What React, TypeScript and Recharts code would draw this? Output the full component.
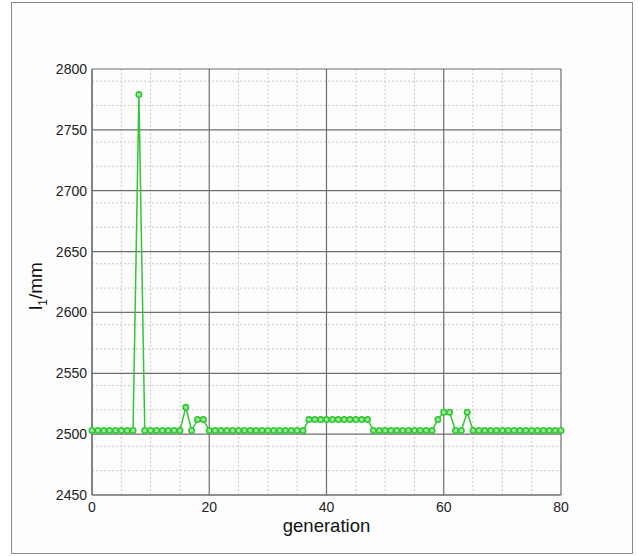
import { LineChart, Line, XAxis, YAxis, CartesianGrid, Label } from 'recharts'

// generation index 0..80
const generations = Array.from({ length: 81 }, (_, i) => i)

// l1 length per generation (mm)
const l1Values = [
  2503, 2503, 2503, 2503, 2503, 2503, 2503, 2503, 2779, 2503,
  2503, 2503, 2503, 2503, 2503, 2503, 2522, 2503, 2512, 2512,
  2503, 2503, 2503, 2503, 2503, 2503, 2503, 2503, 2503, 2503,
  2503, 2503, 2503, 2503, 2503, 2503, 2503, 2512, 2512, 2512,
  2512, 2512, 2512, 2512, 2512, 2512, 2512, 2512, 2503, 2503,
  2503, 2503, 2503, 2503, 2503, 2503, 2503, 2503, 2503, 2512,
  2518, 2518, 2503, 2503, 2518, 2503, 2503, 2503, 2503, 2503,
  2503, 2503, 2503, 2503, 2503, 2503, 2503, 2503, 2503, 2503,
  2503,
]

const xTicks = [0, 20, 40, 60, 80]
const yTicks = [2450, 2500, 2550, 2600, 2650, 2700, 2750, 2800]
const xMinor = [5, 10, 15, 25, 30, 35, 45, 50, 55, 65, 70, 75]
const yMinor = [
  2460, 2470, 2480, 2490, 2510, 2520, 2530, 2540, 2560, 2570, 2580, 2590,
  2610, 2620, 2630, 2640, 2660, 2670, 2680, 2690, 2710, 2720, 2730, 2740,
  2760, 2770, 2780, 2790,
]

const data = generations.map((g, i) => ({ gen: g, l1: l1Values[i] }))

const FONT = '"Liberation Sans", Arial, sans-serif'
const GREEN = '#33c633'

const YLabel = ({ viewBox }: any) => {
  const cx = 42
  const cy = viewBox.y + viewBox.height / 2 + 4
  return (
    <text
      x={cx}
      y={cy}
      transform={`rotate(-90, ${cx}, ${cy})`}
      textAnchor="middle"
      fontFamily={FONT}
      fontSize={19}
      fill="#111"
    >
      l<tspan fontSize={12} dy={5}>1</tspan>
      <tspan dy={-5}>/mm</tspan>
    </text>
  )
}

export default function App() {
  return (
    <div
      style={{
        position: 'absolute',
        left: 0,
        top: 0,
        width: 638,
        height: 556,
        background: '#fff',
      }}
    >
      <div
        style={{
          position: 'absolute',
          left: 11,
          top: 2,
          width: 620,
          height: 550,
          border: '1px solid #8a8a8a',
          background: '#fdfdfd',
        }}
      />
      <div style={{ position: 'absolute', left: 0, top: 0 }}>
        <LineChart
          width={638}
          height={556}
          data={data}
          margin={{ top: 69, right: 77, bottom: 41, left: 32 }}
        >
          <CartesianGrid
            horizontalValues={yMinor}
            verticalValues={xMinor}
            stroke="#c8c8c8"
            strokeDasharray="2 2"
          />
          <CartesianGrid stroke="#6e6e6e" strokeWidth={1.2} />
          <XAxis
            dataKey="gen"
            type="number"
            domain={[0, 80]}
            ticks={xTicks}
            height={20}
            tickLine={false}
            tickSize={0}
            tickMargin={7}
            axisLine={{ stroke: '#6e6e6e', strokeWidth: 1.2 }}
            tick={{ fill: '#222', fontSize: 14, fontFamily: FONT }}
          >
            <Label
              value="generation"
              position="bottom"
              offset={4}
              style={{ fontFamily: FONT, fontSize: 18.5, fill: '#111' }}
            />
          </XAxis>
          <YAxis
            type="number"
            domain={[2450, 2800]}
            ticks={yTicks}
            width={60}
            tickLine={false}
            tickSize={0}
            tickMargin={5}
            axisLine={{ stroke: '#6e6e6e', strokeWidth: 1.2 }}
            tick={{ fill: '#222', fontSize: 14, fontFamily: FONT }}
            label={<YLabel />}
          />
          <Line
            type="linear"
            dataKey="l1"
            stroke={GREEN}
            strokeWidth={1.5}
            dot={{ r: 2.7, fill: '#9be69b', stroke: GREEN, strokeWidth: 1.6 }}
            isAnimationActive={false}
          />
        </LineChart>
      </div>
    </div>
  )
}
